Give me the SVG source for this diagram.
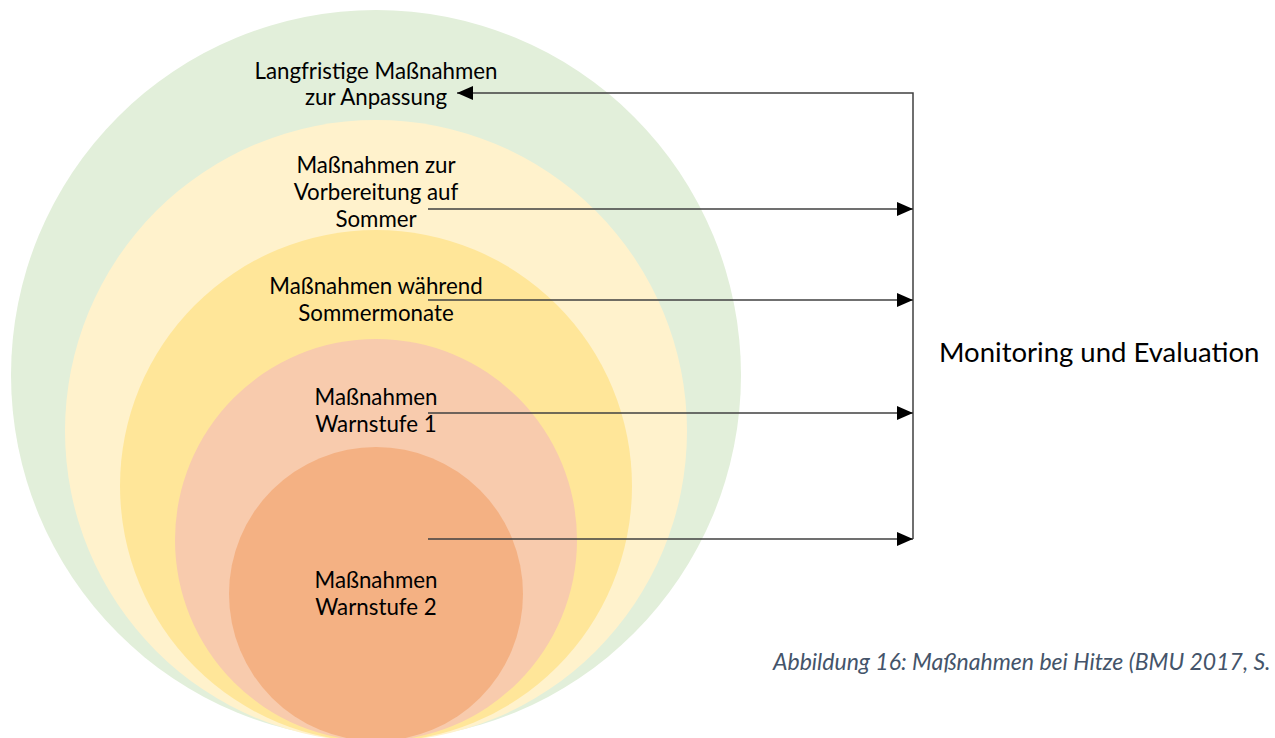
<svg xmlns="http://www.w3.org/2000/svg" width="1275" height="738" viewBox="0 0 1275 738">
<style>
.lbl{font-family:Lato,"Liberation Sans",sans-serif;font-size:22.3px;fill:#000;text-anchor:middle}
.big{font-family:Lato,"Liberation Sans",sans-serif;font-size:27.5px;fill:#000}
.cap{font-family:Lato,"Liberation Sans",sans-serif;font-size:23px;font-style:italic;fill:#44546A}
.con{fill:none;stroke:#404040;stroke-width:1.5}
</style>
<defs>
<marker id="ah" markerUnits="userSpaceOnUse" markerWidth="16" markerHeight="14" refX="16" refY="7" orient="auto">
<path d="M0,0 L16,7 L0,14 z" fill="#000"/>
</marker>
</defs>
<rect width="1275" height="738" fill="#fff"/>
<g id="n1"><circle cx="376" cy="375" r="365" fill="#E2EFDA"/></g>
<g id="n2"><circle cx="376" cy="431" r="311" fill="#FFF2CC"/></g>
<g id="n3"><circle cx="376" cy="486" r="256" fill="#FFE699"/></g>
<g id="n4"><circle cx="376" cy="540" r="201" fill="#F8CBAD"/></g>
<g id="n5"><circle cx="376" cy="594" r="147" fill="#F4B183"/></g>
<g id="t1"><text class="lbl" x="376" y="79">Langfristige Maßnahmen</text><text class="lbl" x="376" y="105">zur Anpassung</text></g>
<g id="t2"><text class="lbl" x="376" y="173">Maßnahmen zur</text><text class="lbl" x="376" y="200">Vorbereitung auf</text><text class="lbl" x="376" y="227">Sommer</text></g>
<g id="t3"><text class="lbl" x="376" y="294">Maßnahmen während</text><text class="lbl" x="376" y="321">Sommermonate</text></g>
<g id="t4"><text class="lbl" x="376" y="405">Maßnahmen</text><text class="lbl" x="376" y="432">Warnstufe 1</text></g>
<g id="t5"><text class="lbl" x="376" y="588">Maßnahmen</text><text class="lbl" x="376" y="615">Warnstufe 2</text></g>
<g id="connectors">
<path class="con" d="M913,539 L913,93 L457,93" marker-end="url(#ah)"/>
<path class="con" d="M428,209 L913,209" marker-end="url(#ah)"/>
<path class="con" d="M428,300 L913,300" marker-end="url(#ah)"/>
<path class="con" d="M428,413 L913,413" marker-end="url(#ah)"/>
<path class="con" d="M428,539 L913,539" marker-end="url(#ah)"/>
</g>
<g id="me"><text class="big" x="939" y="362">Monitoring und Evaluation</text></g>
<text class="cap" x="773" y="670">Abbildung 16: Maßnahmen bei Hitze (BMU 2017, S.</text>
</svg>
